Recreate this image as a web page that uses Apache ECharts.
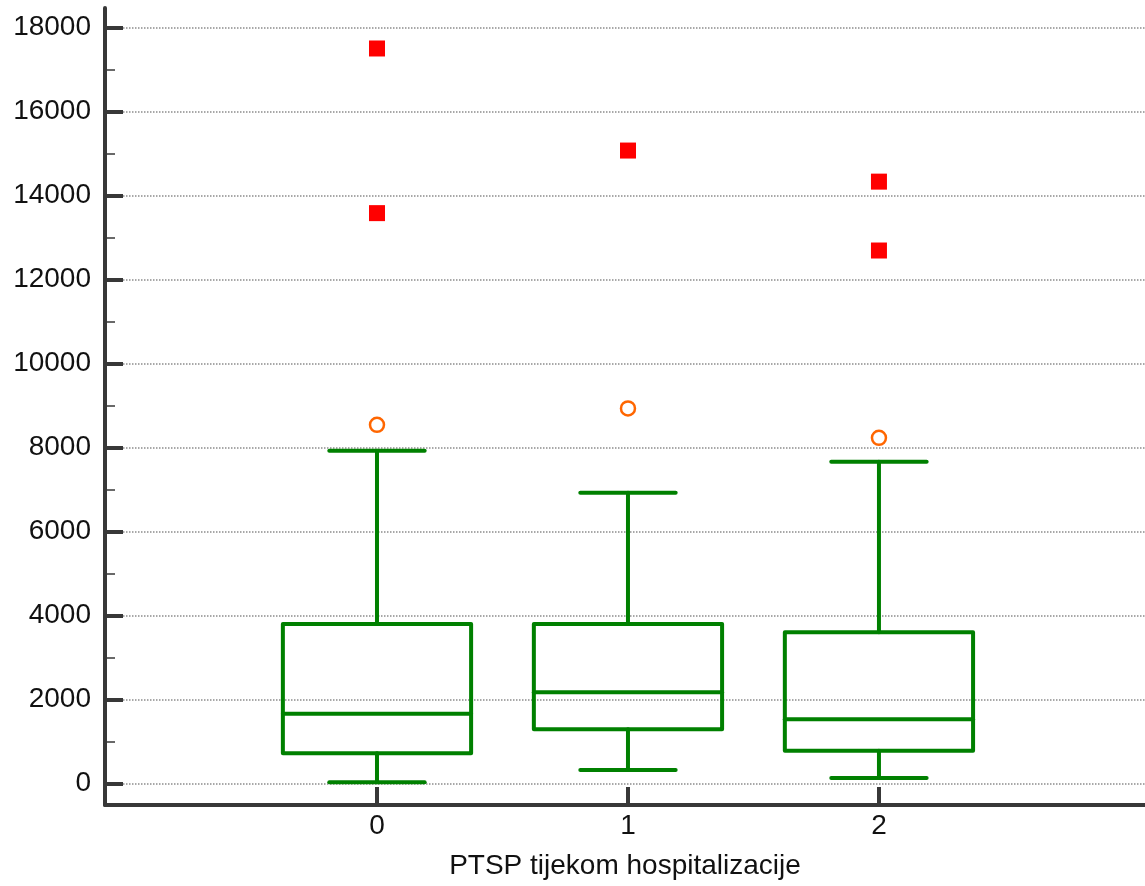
<!DOCTYPE html>
<html>
<head>
<meta charset="utf-8">
<script src="https://cdn.jsdelivr.net/npm/echarts@6/dist/echarts.min.js"></script>
<style>
html,body{margin:0;padding:0;background:#fff;}
#c{width:1145px;height:886px;}
</style>
</head>
<body>
<div id="c"></div>
<script>
// ---- data ----
var categories = ['0', '1', '2'];
var groupPos = [0, 1, 2];
var lowWhisker = [30, 320, 130];
var q1 = [720, 1290, 780];
var median = [1660, 2170, 1530];
var q3 = [3800, 3800, 3600];
var highWhisker = [7920, 6920, 7660];
// outliers (circles)
var outGroup = [0, 1, 2];
var outValue = [8540, 8930, 8230];
// far outliers (squares)
var farGroup = [0, 0, 1, 2, 2];
var farValue = [17500, 13580, 15070, 14330, 12690];
// tick values
var yMajorTicks = [0, 2000, 4000, 6000, 8000, 10000, 12000, 14000, 16000, 18000];
var yMinorTicks = [1000, 3000, 5000, 7000, 9000, 11000, 13000, 15000, 17000];
var xLabel = 'PTSP tijekom hospitalizacije';

var boxData = groupPos.map(function (p, i) {
  return [p, lowWhisker[i], q1[i], median[i], q3[i], highWhisker[i]];
});
var outData = outGroup.map(function (g, i) { return [g, outValue[i]]; });
var farData = farGroup.map(function (g, i) { return [g, farValue[i]]; });

var GREEN = '#008000';
var AXIS = '#383838';
var FONT = 'Liberation Sans, Arial, sans-serif';
var FS = 28;
var BOX_HALF = 0.375;
var CAP_HALF = 0.19;

function renderBox(params, api) {
  var x = api.value(0);
  var lo = api.coord([x, api.value(1)]);
  var b1 = api.coord([x, api.value(2)]);
  var md = api.coord([x, api.value(3)]);
  var b3 = api.coord([x, api.value(4)]);
  var hi = api.coord([x, api.value(5)]);
  var L = api.coord([x - BOX_HALF, 0])[0];
  var R = api.coord([x + BOX_HALF, 0])[0];
  var cL = api.coord([x - CAP_HALF, 0])[0];
  var cR = api.coord([x + CAP_HALF, 0])[0];
  var cx = lo[0];
  var st = { stroke: GREEN, lineWidth: 4, fill: null, lineCap: 'round', lineJoin: 'round' };
  return {
    type: 'group',
    children: [
      { type: 'line', shape: { x1: cx, y1: hi[1], x2: cx, y2: b3[1] }, style: st },
      { type: 'line', shape: { x1: cx, y1: b1[1], x2: cx, y2: lo[1] }, style: st },
      { type: 'line', shape: { x1: cL, y1: hi[1], x2: cR, y2: hi[1] }, style: st },
      { type: 'line', shape: { x1: cL, y1: lo[1], x2: cR, y2: lo[1] }, style: st },
      { type: 'rect', shape: { x: L, y: b3[1], width: R - L, height: b1[1] - b3[1] }, style: st },
      { type: 'line', shape: { x1: L, y1: md[1], x2: R, y2: md[1] }, style: st }
    ]
  };
}

var chart = echarts.init(document.getElementById('c'), null, { renderer: 'canvas' });
chart.setOption({
  animation: false,
  backgroundColor: '#fff',
  grid: { left: 105, right: 0, top: 8, bottom: 81, containLabel: false },
  xAxis: {
    type: 'value',
    min: -1.0837,
    max: 3.06,
    name: xLabel,
    nameLocation: 'middle',
    nameGap: 47,
    nameTextStyle: { fontFamily: FONT, fontSize: FS, color: '#111' },
    axisLine: { show: true, onZero: false, lineStyle: { color: AXIS, width: 4 } },
    axisTick: { show: true, inside: true, length: 18, lineStyle: { color: AXIS, width: 4 }, customValues: groupPos },
    axisLabel: {
      show: true, margin: 7, fontFamily: FONT, fontSize: FS, color: '#111',
      customValues: groupPos,
      formatter: function (v) { return categories[Math.round(v)]; }
    },
    splitLine: { show: false }
  },
  yAxis: [{
    type: 'value',
    min: -512,
    max: 18464,
    position: 'left',
    axisLine: { show: true, onZero: false, lineStyle: { color: AXIS, width: 4 } },
    axisTick: { show: true, inside: true, length: 18, lineStyle: { color: AXIS, width: 4 }, customValues: yMajorTicks },
    axisLabel: {
      show: true, margin: 14, fontFamily: FONT, fontSize: FS, color: '#111', customValues: yMajorTicks,
      formatter: function (v) { return String(v); }
    },
    splitLine: { show: true, lineStyle: { color: '#8c8c8c', width: 1.5, type: [1.5, 1.5] } }
  }, {
    type: 'value',
    min: -512,
    max: 18464,
    position: 'left',
    offset: 0,
    axisLine: { show: false, onZero: false },
    axisTick: { show: true, inside: true, length: 10, lineStyle: { color: AXIS, width: 1.5 }, customValues: yMinorTicks },
    axisLabel: { show: false },
    splitLine: { show: false }
  }],
  series: [{
    type: 'custom',
    renderItem: renderBox,
    data: boxData,
    encode: { x: 0, y: [1, 2, 3, 4, 5] },
    clip: false,
    z: 3
  }, {
    type: 'scatter',
    data: outData,
    symbol: 'circle',
    symbolSize: 14,
    itemStyle: { color: 'rgba(255,255,255,0)', borderColor: '#FF6600', borderWidth: 2.5, opacity: 1 },
    z: 4
  }, {
    type: 'scatter',
    data: farData,
    symbol: 'rect',
    symbolSize: 16,
    itemStyle: { color: '#FF0000', opacity: 1 },
    z: 4
  }]
});
</script>
</body>
</html>
